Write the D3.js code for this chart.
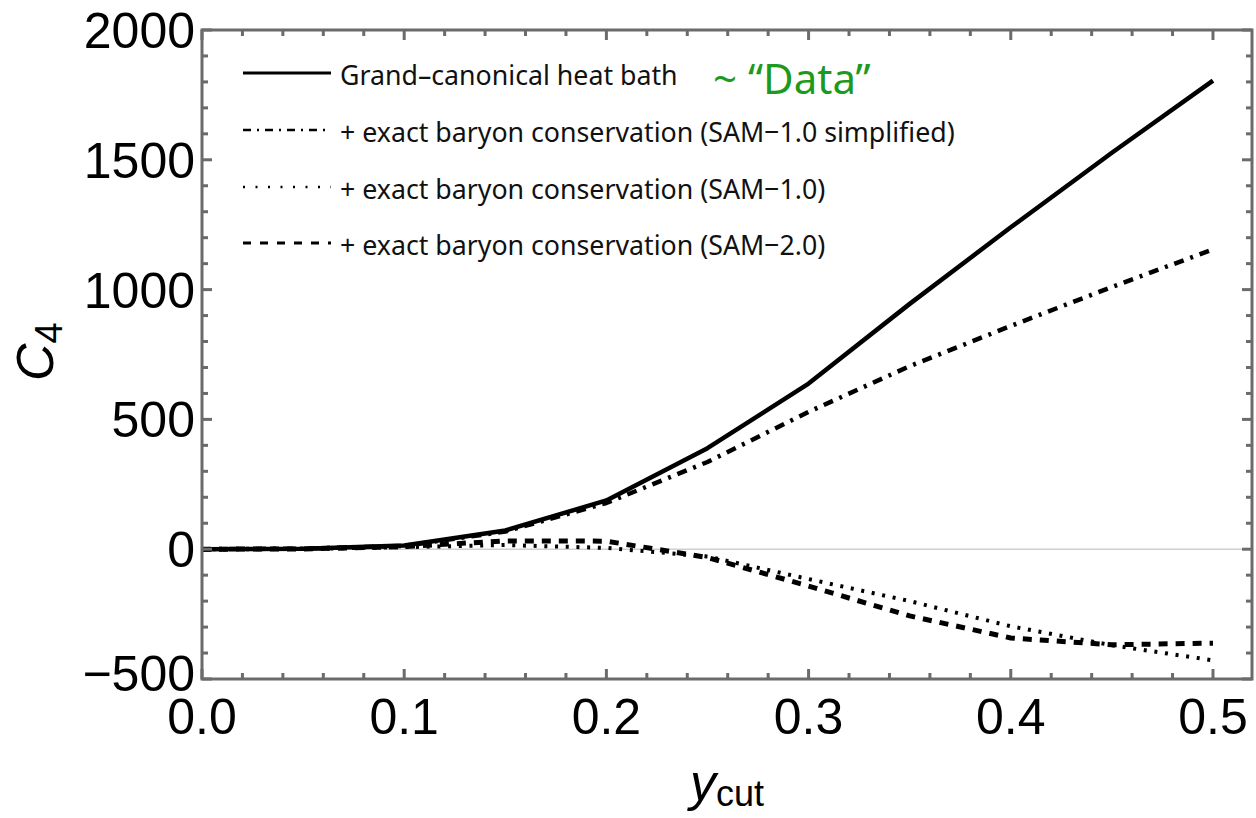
<!DOCTYPE html>
<html>
<head>
<meta charset="utf-8">
<script src="https://cdn.jsdelivr.net/npm/d3@7"></script>
<style>
  html, body { margin: 0; padding: 0; background: #fff; }
  svg { display: block; }
</style>
</head>
<body>
<svg id="chart" width="1256" height="818"></svg>
<script>
// y_cut sampling points
const ycut = [0, 0.05, 0.1, 0.15, 0.2, 0.25, 0.3, 0.35, 0.4, 0.45, 0.5];

// C4 for each scenario
const grandCanonical = [0, 2, 14, 72, 188, 389, 638, 945, 1240, 1527, 1805];
const sam10Simplified = [0, 2, 13, 68, 178, 336, 529, 705, 860, 1010, 1155];
const sam10 = [0, 1, 8, 16, 5, -28, -115, -200, -297, -370, -428];
const sam20 = [0, 1, 10, 32, 31, -32, -142, -257, -342, -368, -362];

const seriesNames = [
  "Grand\u2013canonical heat bath",
  "+ exact baryon conservation (SAM\u22121.0 simplified)",
  "+ exact baryon conservation (SAM\u22121.0)",
  "+ exact baryon conservation (SAM\u22122.0)"
];
const seriesValues = [grandCanonical, sam10Simplified, sam10, sam20];

const xTicks = [0, 0.1, 0.2, 0.3, 0.4, 0.5];
const xTickLabels = ["0.0", "0.1", "0.2", "0.3", "0.4", "0.5"];
const yTicks = [-500, 0, 500, 1000, 1500, 2000];
const yTickLabels = ["\u2212500", "0", "500", "1000", "1500", "2000"];

// line styles: solid, dot-dash, dotted, dashed
const styles = [
  { dash: null, width: 4.5, legendDash: null, legendWidth: 3 },
  { dash: "10,7,3,7", width: 4.5, legendDash: "8,6,2,6", legendWidth: 2.5 },
  { dash: "3,7.7", width: 4, legendDash: "2,10.5", legendWidth: 2.5 },
  { dash: "9,8", width: 5, legendDash: "8,9", legendWidth: 3 }
];

const svg = d3.select("#chart");
const plotLeft = 202, plotRight = 1252, plotTop = 30, plotBottom = 679;

const x = d3.scaleLinear().domain([0, 0.5193]).range([plotLeft, plotRight]);
const y = d3.scaleLinear().domain([-500, 2000]).range([plotBottom, plotTop]);

const frameColor = "#6b6b6b";
const tickFont = "'Liberation Sans', Arial, sans-serif";

// zero line
svg.append("line")
  .attr("x1", plotLeft).attr("x2", plotRight)
  .attr("y1", y(0)).attr("y2", y(0))
  .attr("stroke", "#cfcfcf").attr("stroke-width", 1.5);

// curves
const line = d3.line()
  .x((d, i) => x(ycut[i]))
  .y(d => y(d))
  .curve(d3.curveLinear);

seriesValues.forEach((vals, k) => {
  svg.append("path")
    .datum(vals)
    .attr("d", line)
    .attr("fill", "none")
    .attr("stroke", "#000")
    .attr("stroke-width", styles[k].width)
    .attr("stroke-dasharray", styles[k].dash)
    .attr("stroke-linejoin", "round");
});

// frame ticks (inward) on all four sides
const xMinor = d3.range(0, 0.5193, 0.02);
const yMinor = d3.range(-500, 2001, 100);
const isMajorX = v => Math.abs(v * 10 - Math.round(v * 10)) < 1e-6;
const isMajorY = v => v % 500 === 0;

const ticks = svg.append("g").attr("stroke", frameColor).attr("stroke-width", 3);
xMinor.forEach(v => {
  const len = isMajorX(v) ? 10 : 6;
  ticks.append("line").attr("x1", x(v)).attr("x2", x(v)).attr("y1", plotBottom).attr("y2", plotBottom - len);
  ticks.append("line").attr("x1", x(v)).attr("x2", x(v)).attr("y1", plotTop).attr("y2", plotTop + len);
});
yMinor.forEach(v => {
  const len = isMajorY(v) ? 10 : 6;
  ticks.append("line").attr("x1", plotLeft).attr("x2", plotLeft + len).attr("y1", y(v)).attr("y2", y(v));
  ticks.append("line").attr("x1", plotRight).attr("x2", plotRight - len).attr("y1", y(v)).attr("y2", y(v));
});

// frame
svg.append("rect")
  .attr("x", plotLeft).attr("y", plotTop)
  .attr("width", plotRight - plotLeft).attr("height", plotBottom - plotTop)
  .attr("fill", "none").attr("stroke", frameColor).attr("stroke-width", 3);

// tick labels
svg.append("g").selectAll("text")
  .data(xTicks)
  .join("text")
  .attr("x", d => x(d))
  .attr("y", 734)
  .attr("text-anchor", "middle")
  .attr("font-family", tickFont)
  .attr("font-size", 50)
  .attr("fill", "#000")
  .text((d, i) => xTickLabels[i]);

svg.append("g").selectAll("text")
  .data(yTicks)
  .join("text")
  .attr("x", 195)
  .attr("y", d => y(d) + (d === -500 ? 12 : 18))
  .attr("text-anchor", "end")
  .attr("font-family", tickFont)
  .attr("font-size", 50)
  .attr("fill", "#000")
  .text((d, i) => yTickLabels[i]);

// axis titles
const xt = svg.append("text")
  .attr("x", 690).attr("y", 800)
  .attr("font-family", tickFont)
  .attr("font-size", 52)
  .attr("fill", "#000");
xt.append("tspan").attr("font-style", "italic").text("y");
xt.append("tspan").attr("font-size", 36).attr("dy", 6).text("cut");

const yt = svg.append("text")
  .attr("transform", "translate(53,381) rotate(-90)")
  .attr("font-family", tickFont)
  .attr("font-size", 52)
  .attr("fill", "#000");
yt.append("tspan").attr("font-style", "italic").text("C");
yt.append("tspan").attr("font-size", 38).attr("dy", 9).text("4");

// legend
const legendFont = "'Noto Sans', 'Open Sans', sans-serif";
const legendBase = [85, 142, 199, 255];
const legend = svg.append("g");
seriesNames.forEach((name, k) => {
  legend.append("line")
    .attr("x1", 243).attr("x2", 331)
    .attr("y1", legendBase[k] - 12).attr("y2", legendBase[k] - 12)
    .attr("stroke", "#000")
    .attr("stroke-width", styles[k].legendWidth)
    .attr("stroke-dasharray", styles[k].legendDash);
  legend.append("text")
    .attr("transform", `translate(340,${legendBase[k]}) scale(0.955,1)`)
    .attr("font-family", legendFont)
    .attr("font-size", 28)
    .attr("fill", "#111")
    .text(name);
});

// annotation
svg.append("text")
  .attr("x", 713).attr("y", 94)
  .attr("font-family", legendFont)
  .attr("font-size", 42)
  .attr("fill", "#1d9a1d")
  .text("~ \u201CData\u201D");
</script>
</body>
</html>
